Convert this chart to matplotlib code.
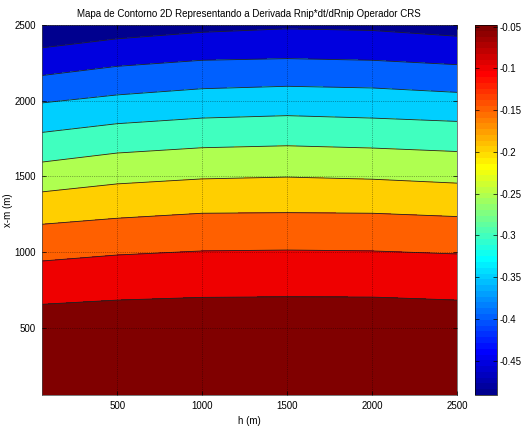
import numpy as np
import matplotlib
matplotlib.use('Agg')
import matplotlib.pyplot as plt
from matplotlib.colors import ListedColormap, Normalize
from matplotlib.cm import ScalarMappable

plt.rcParams['font.family'] = ['Liberation Sans', 'DejaVu Sans']
plt.rcParams['font.size'] = 7

# offsets h (m) where the contour boundaries were read
h = [55, 500, 1000, 1500, 2000, 2500]
# contour levels of Rnip*dt/dRnip
levels = [-0.05, -0.10, -0.15, -0.20, -0.25, -0.30, -0.35, -0.40, -0.45]
# x-m (m) position of each level line at the h values above
xm_lines = [
    [654, 682, 700, 704, 702, 682],        # -0.05
    [940, 980, 1007, 1013, 1007, 987],     # -0.10
    [1183, 1223, 1256, 1260, 1256, 1234],  # -0.15
    [1397, 1450, 1483, 1495, 1481, 1455],  # -0.20
    [1594, 1654, 1689, 1702, 1687, 1664],  # -0.25
    [1790, 1848, 1885, 1901, 1885, 1863],  # -0.30
    [1985, 2038, 2079, 2095, 2084, 2055],  # -0.35
    [2166, 2227, 2267, 2278, 2267, 2238],  # -0.40
    [2349, 2409, 2452, 2475, 2464, 2426],  # -0.45
]
xm_min, xm_max = 55, 2500
z_max, z_min = -0.048, -0.491   # data range (colorbar limits)


def matlab_jet(m=64):
    n = int(np.ceil(m / 4))
    u = np.concatenate([np.arange(1, n + 1) / n, np.ones(n - 1), np.arange(n, 0, -1) / n])
    g = int(np.ceil(n / 2)) - (m % 4 == 1) + np.arange(1, len(u) + 1)
    r = g + n
    b = g - n
    J = np.zeros((m, 3))
    for col, idx in ((0, r), (1, g), (2, b)):
        ok = (idx >= 1) & (idx <= m)
        J[idx[ok] - 1, col] = u[ok]
    return ListedColormap(J)


cmap = matlab_jet(64)
norm = Normalize(vmin=z_min, vmax=z_max)

# curvilinear grid: each row follows one level line
Y = np.array([[xm_min] * len(h)] + xm_lines + [[xm_max] * len(h)], dtype=float)
Z = np.array([[z_max] * len(h)] + [[lv] * len(h) for lv in levels] + [[z_min] * len(h)])
X = np.tile(np.array(h, dtype=float), (Y.shape[0], 1))

fill_levels = [-0.5] + sorted(levels) + [-0.04]
lower_vals = [z_min] + sorted(levels)   # MATLAB colours a band by its lower level
fill_colors = [cmap(norm(v)) for v in lower_vals]

fig = plt.figure(figsize=(5.27, 4.26), dpi=100)
ax = fig.add_axes([0.0791, 0.0728, 0.788, 0.8685])
ax.contourf(X, Y, Z, levels=fill_levels, colors=fill_colors)
ax.contour(X, Y, Z, levels=sorted(levels), colors='#222222', linewidths=0.6,
           linestyles='solid')

ax.set_xlim(55, 2500)
ax.set_ylim(xm_min, xm_max)
ax.set_xticks([500, 1000, 1500, 2000, 2500])
ax.set_yticks([500, 1000, 1500, 2000, 2500])
ax.tick_params(direction='in', length=3, width=0.5, top=True, right=True, pad=4)
ax.grid(True, linestyle=':', color='k', linewidth=0.5, alpha=0.6)
ax.set_axisbelow(False)
for s in ax.spines.values():
    s.set_linewidth(0.5)
    s.set_color('#444444')
ax.set_xlabel('h (m)', labelpad=4)
ax.set_ylabel('x-m (m)', labelpad=1)
ax.set_title('Mapa de Contorno 2D Representando a Derivada Rnip*dt/dRnip Operador CRS',
             fontsize=7, pad=6)

cax = fig.add_axes([0.9013, 0.0728, 0.0412, 0.8685])
sm = ScalarMappable(norm=norm, cmap=cmap)
cb = fig.colorbar(sm, cax=cax, ticks=levels)
cb.ax.set_yticklabels(['%g' % v for v in levels])
cb.ax.tick_params(direction='in', length=3, width=0.5, left=True, right=True, pad=2)
cb.outline.set_linewidth(0.5)

fig.savefig('out.png', dpi=100)
